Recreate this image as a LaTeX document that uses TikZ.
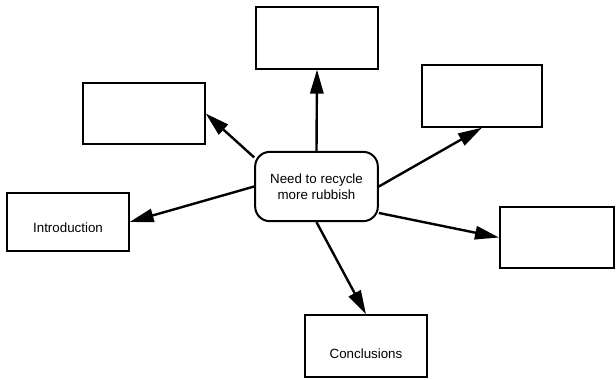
\documentclass[tikz,border=0pt]{standalone}
\usepackage{fontspec}
\setmainfont{Liberation Sans}
\usetikzlibrary{arrows.meta}

\begin{document}
\begin{tikzpicture}[
    x=0.75pt, y=-0.75pt,
    >={Triangle[length=18pt, width=10pt]},
    box/.style={draw, line width=1.5pt, minimum width=91pt, minimum height=46pt,
                inner sep=0pt, font=\fontsize{10}{12}\selectfont},
    topic/.style={box, rounded corners=11pt, minimum width=92pt, minimum height=52pt, align=center},
    link/.style={->, line width=1.8pt}
]
\useasboundingbox (0,0) rectangle (616,379);

% Central idea
\node[topic] (idea) at (316.5,186.5) {Need to recycle\\more rubbish};

% Surrounding boxes
\node[box] (top) at (317,38) {};
\node[box] (upleft) at (144,113.5) {};
\node[box, minimum width=90pt] (upright) at (482,96) {};
\node[box, minimum height=43.5pt,
      label={[yshift=-4.5pt, font=\fontsize{10}{12}\selectfont]center:Introduction}] (intro) at (68,222) {};
\node[box, minimum width=85.5pt] (right) at (557,237.5) {};
\node[box, label={[yshift=-5.5pt, font=\fontsize{10}{12}\selectfont]center:Conclusions}] (concl) at (366,346) {};

% Arrows out of the central idea
\draw[link] (idea.north) -- (top.south);
\draw[link] (idea.155) -- (upleft.east);
\draw[link] (idea.east) -- (upright.south);
\draw[link] (idea.west) -- (intro.east);
\draw[link] (idea.-23) -- (right.west);
\draw[link] (idea.south) -- (concl.north);

\end{tikzpicture}
\end{document}
